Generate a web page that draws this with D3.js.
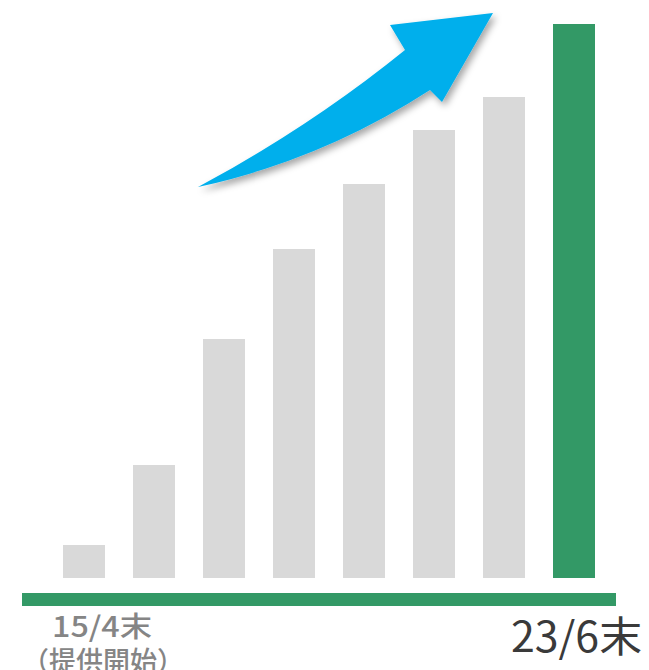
<!DOCTYPE html>
<html>
<head>
<meta charset="utf-8">
<script src="https://cdnjs.cloudflare.com/ajax/libs/d3/7.8.5/d3.min.js"></script>
<style>
  html, body { margin: 0; padding: 0; background: #fff; }
  svg { display: block; }
</style>
</head>
<body>
<svg id="chart" width="649" height="670"></svg>
<script>
// periods from 15/4 (start) to 23/6, relative size
var periods = ["15/4", "16", "17", "18", "19", "20", "21", "23/6"];
var values = [33, 113, 239, 329, 394, 448, 481, 554];
var firstLabel = "15/4末";
var firstSub = "（提供開始）";
var lastLabel = "23/6末";

var svg = d3.select("#chart"),
    width = +svg.attr("width"),
    height = +svg.attr("height");

var baseY = 578;

var x = d3.scaleBand()
    .domain(periods)
    .range([49, 609])
    .paddingInner(0.4)
    .paddingOuter(0.2);

var y = d3.scaleLinear()
    .domain([0, d3.max(values)])
    .range([baseY, 24]);

var defs = svg.append("defs");
var f = defs.append("filter").attr("id", "shadow")
    .attr("x", "-20%").attr("y", "-20%").attr("width", "140%").attr("height", "140%");
f.append("feDropShadow")
    .attr("dx", 3).attr("dy", 4)
    .attr("stdDeviation", 3.5)
    .attr("flood-color", "#000")
    .attr("flood-opacity", 0.35);

// bars
svg.selectAll("rect.bar")
  .data(values)
  .enter().append("rect")
    .attr("class", "bar")
    .attr("x", function(d, i) { return x(periods[i]); })
    .attr("y", function(d) { return y(d); })
    .attr("width", x.bandwidth())
    .attr("height", function(d) { return baseY - y(d); })
    .attr("fill", function(d, i) { return i == values.length - 1 ? "#339966" : "#d9d9d9"; });

// baseline
svg.append("rect")
    .attr("x", 22)
    .attr("y", 593)
    .attr("width", 594)
    .attr("height", 13)
    .attr("fill", "#339966");

// growth arrow
var arrow = d3.path();
arrow.moveTo(198, 187);
arrow.quadraticCurveTo(310, 127, 405, 50);
arrow.lineTo(390, 25);
arrow.lineTo(493, 13);
arrow.lineTo(442, 102);
arrow.lineTo(430, 90);
arrow.quadraticCurveTo(322, 160, 198, 187);
arrow.closePath();

svg.append("path")
    .attr("d", arrow.toString())
    .attr("fill", "#00afec")
    .attr("filter", "url(#shadow)");

// labels
var font = "'Noto Sans CJK JP', 'Noto Sans', sans-serif";

svg.append("text")
    .attr("x", 52)
    .attr("y", 637)
    .attr("textLength", 100)
    .attr("lengthAdjust", "spacingAndGlyphs")
    .attr("font-family", font)
    .attr("font-size", 28)
    .attr("font-weight", 500)
    .attr("fill", "#858585")
    .text(firstLabel);

svg.append("text")
    .attr("x", 22)
    .attr("y", 671)
    .attr("textLength", 162)
    .attr("lengthAdjust", "spacingAndGlyphs")
    .attr("font-family", font)
    .attr("font-size", 27)
    .attr("font-weight", 500)
    .attr("fill", "#858585")
    .text(firstSub);

svg.append("text")
    .attr("x", 511)
    .attr("y", 652)
    .attr("textLength", 131)
    .attr("lengthAdjust", "spacingAndGlyphs")
    .attr("font-family", font)
    .attr("font-size", 42)
    .attr("fill", "#3a3a3a")
    .text(lastLabel);
</script>
</body>
</html>
